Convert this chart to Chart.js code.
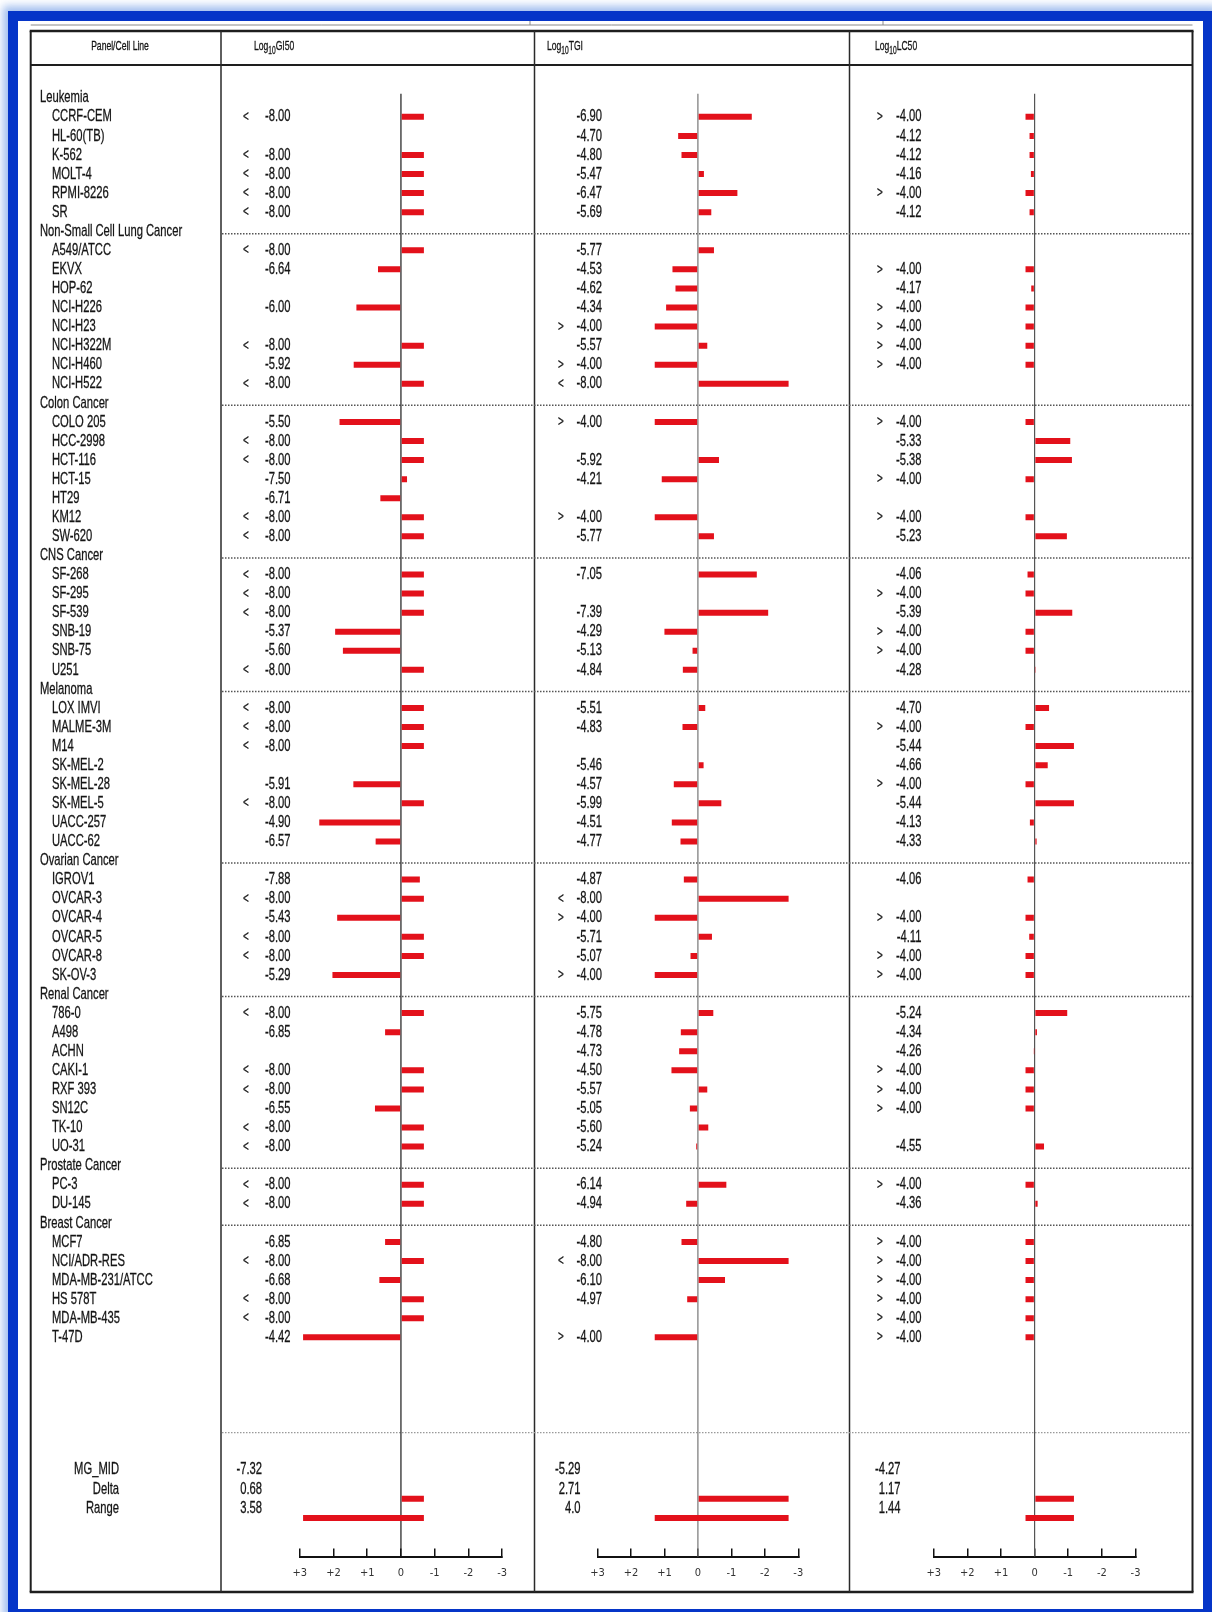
<!DOCTYPE html>
<html>
<head>
<meta charset="utf-8">
<script src="https://cdn.jsdelivr.net/npm/chart.js"></script>
<style>
html, body { margin: 0; padding: 0; background: #fff; }
#page { position: relative; width: 1212px; height: 1612px; overflow: hidden; background: #fff; }
#frame {
        position: absolute; left: 8px; top: 11px; width: 1205px; height: 1608px;
        box-sizing: border-box; border: 10px solid #0535c8;
        box-shadow: 0 0 8px 5px rgba(140, 175, 235, 0.8);
}
canvas { position: absolute; left: 0; top: 0; }
</style>
</head>
<body>
<div id="page">
        <div id="frame"></div>
        <canvas id="chart_gi50" width="1212" height="1612"></canvas>
        <canvas id="chart_tgi" width="1212" height="1612"></canvas>
        <canvas id="chart_lc50" width="1212" height="1612"></canvas>
</div>
<script>
const panel_names = ['Leukemia', 'Non-Small Cell Lung Cancer', 'Colon Cancer', 'CNS Cancer', 'Melanoma',
        'Ovarian Cancer', 'Renal Cancer', 'Prostate Cancer', 'Breast Cancer'];

const row_labels = [
        'Leukemia', 'CCRF-CEM', 'HL-60(TB)', 'K-562', 'MOLT-4', 'RPMI-8226', 'SR',
        'Non-Small Cell Lung Cancer', 'A549/ATCC', 'EKVX', 'HOP-62', 'NCI-H226', 'NCI-H23', 'NCI-H322M', 'NCI-H460', 'NCI-H522',
        'Colon Cancer', 'COLO 205', 'HCC-2998', 'HCT-116', 'HCT-15', 'HT29', 'KM12', 'SW-620',
        'CNS Cancer', 'SF-268', 'SF-295', 'SF-539', 'SNB-19', 'SNB-75', 'U251',
        'Melanoma', 'LOX IMVI', 'MALME-3M', 'M14', 'SK-MEL-2', 'SK-MEL-28', 'SK-MEL-5', 'UACC-257', 'UACC-62',
        'Ovarian Cancer', 'IGROV1', 'OVCAR-3', 'OVCAR-4', 'OVCAR-5', 'OVCAR-8', 'SK-OV-3',
        'Renal Cancer', '786-0', 'A498', 'ACHN', 'CAKI-1', 'RXF 393', 'SN12C', 'TK-10', 'UO-31',
        'Prostate Cancer', 'PC-3', 'DU-145',
        'Breast Cancer', 'MCF7', 'NCI/ADR-RES', 'MDA-MB-231/ATCC', 'HS 578T', 'MDA-MB-435', 'T-47D'
];

// log10 values, one per row (panel rows and missing values are null)
const gi50_values = [
        null, -8.00, null, -8.00, -8.00, -8.00, -8.00,
        null, -8.00, -6.64, null, -6.00, null, -8.00, -5.92, -8.00,
        null, -5.50, -8.00, -8.00, -7.50, -6.71, -8.00, -8.00,
        null, -8.00, -8.00, -8.00, -5.37, -5.60, -8.00,
        null, -8.00, -8.00, -8.00, null, -5.91, -8.00, -4.90, -6.57,
        null, -7.88, -8.00, -5.43, -8.00, -8.00, -5.29,
        null, -8.00, -6.85, null, -8.00, -8.00, -6.55, -8.00, -8.00,
        null, -8.00, -8.00,
        null, -6.85, -8.00, -6.68, -8.00, -8.00, -4.42
];
const gi50_signs = [
        '', '<', '', '<', '<', '<', '<',
        '', '<', '', '', '', '', '<', '', '<',
        '', '', '<', '<', '', '', '<', '<',
        '', '<', '<', '<', '', '', '<',
        '', '<', '<', '<', '', '', '<', '', '',
        '', '', '<', '', '<', '<', '',
        '', '<', '', '', '<', '<', '', '<', '<',
        '', '<', '<',
        '', '', '<', '', '<', '<', ''
];
const tgi_values = [
        null, -6.90, -4.70, -4.80, -5.47, -6.47, -5.69,
        null, -5.77, -4.53, -4.62, -4.34, -4.00, -5.57, -4.00, -8.00,
        null, -4.00, null, -5.92, -4.21, null, -4.00, -5.77,
        null, -7.05, null, -7.39, -4.29, -5.13, -4.84,
        null, -5.51, -4.83, null, -5.46, -4.57, -5.99, -4.51, -4.77,
        null, -4.87, -8.00, -4.00, -5.71, -5.07, -4.00,
        null, -5.75, -4.78, -4.73, -4.50, -5.57, -5.05, -5.60, -5.24,
        null, -6.14, -4.94,
        null, -4.80, -8.00, -6.10, -4.97, null, -4.00
];
const tgi_signs = [
        '', '', '', '', '', '', '',
        '', '', '', '', '', '>', '', '>', '<',
        '', '>', '', '', '', '', '>', '',
        '', '', '', '', '', '', '',
        '', '', '', '', '', '', '', '', '',
        '', '', '<', '>', '', '', '>',
        '', '', '', '', '', '', '', '', '',
        '', '', '',
        '', '', '<', '', '', '', '>'
];
const lc50_values = [
        null, -4.00, -4.12, -4.12, -4.16, -4.00, -4.12,
        null, null, -4.00, -4.17, -4.00, -4.00, -4.00, -4.00, null,
        null, -4.00, -5.33, -5.38, -4.00, null, -4.00, -5.23,
        null, -4.06, -4.00, -5.39, -4.00, -4.00, -4.28,
        null, -4.70, -4.00, -5.44, -4.66, -4.00, -5.44, -4.13, -4.33,
        null, -4.06, null, -4.00, -4.11, -4.00, -4.00,
        null, -5.24, -4.34, -4.26, -4.00, -4.00, -4.00, null, -4.55,
        null, -4.00, -4.36,
        null, -4.00, -4.00, -4.00, -4.00, -4.00, -4.00
];
const lc50_signs = [
        '', '>', '', '', '', '>', '',
        '', '', '>', '', '>', '>', '>', '>', '',
        '', '>', '', '', '>', '', '>', '',
        '', '', '>', '', '>', '>', '',
        '', '', '>', '', '', '>', '', '', '',
        '', '', '', '>', '', '>', '>',
        '', '', '', '', '>', '>', '>', '', '',
        '', '>', '',
        '', '>', '>', '>', '>', '>', '>'
];

const summary_labels = ['MG_MID', 'Delta', 'Range'];
const mg_mid = [-7.32, -5.29, -4.27];
const delta = [0.68, 2.71, 1.17];
const range = [3.58, 4.0, 1.44];
const range_text = ['3.58', '4.0', '1.44'];
const tick_values = [3, 2, 1, 0, -1, -2, -3];

// rows below the cell lines: blank gap, dotted separator, summary block, blank tail
const gap_rows = 6;
const separator_row = row_labels.length + 4;
const tail_rows = 2;

var all_labels = row_labels.slice();
for (let i = 0; i < gap_rows; i++) all_labels.push('');
summary_labels.forEach(s => all_labels.push(s));
for (let i = 0; i < tail_rows; i++) all_labels.push('');
const summary_start = row_labels.length + gap_rows;

const TEXT_FONT = '"Liberation Sans", Arial, sans-serif';
const SQUEEZE = 0.66;

function draw_text(ctx, text, x, y, align, size, color) {
        ctx.save();
        ctx.font = size + 'px ' + TEXT_FONT;
        ctx.fillStyle = color || '#141414';
        ctx.strokeStyle = color || '#141414';
        ctx.lineWidth = 0.3;
        ctx.textBaseline = 'middle';
        ctx.textAlign = align;
        ctx.translate(x, y);
        ctx.scale(SQUEEZE, 1);
        ctx.fillText(text, 0, 0);
        ctx.strokeText(text, 0, 0);
        ctx.restore();
}

function text_width(ctx, text, size) {
        ctx.save();
        ctx.font = size + 'px ' + TEXT_FONT;
        var w = ctx.measureText(text).width * SQUEEZE;
        ctx.restore();
        return w;
}

function line(ctx, x1, y1, x2, y2, width, color, dash) {
        ctx.save();
        ctx.strokeStyle = color;
        ctx.lineWidth = width;
        if (dash) ctx.setLineDash(dash);
        ctx.beginPath();
        ctx.moveTo(x1, y1);
        ctx.lineTo(x2, y2);
        ctx.stroke();
        ctx.restore();
}

function row_bars(values, col) {
        var data = values.map(v => v === null ? null : +(v - mg_mid[col]).toFixed(2));
        for (let i = row_labels.length; i < all_labels.length; i++) data.push(null);
        return data;
}

function summary_bars(col) {
        var data = all_labels.map(() => null);
        data[summary_start + 1] = [0, -delta[col]];                                          // Delta
        data[summary_start + 2] = [+(range[col] - delta[col]).toFixed(2), -delta[col]];      // Range
        return data;
}

const table = { left: 30.7, right: 1192.5, top: 31, head: 65, bottom: 1592, dividers: [221, 534.5, 849.5] };

// table frame, header, cell line names
const table_plugin = {
        id: 'table_plugin',
        beforeDraw(chart) {
                const ctx = chart.ctx;
                const y = chart.scales.y;
                line(ctx, table.left, 25, table.right, 25, 1, '#8a8a8a');
                line(ctx, 530, 21, 530, 25, 1, '#8a8a8a');
                line(ctx, 883, 21, 883, 25, 1, '#8a8a8a');
                line(ctx, table.left - 1, table.top, table.right + 1, table.top, 2.5, '#1e1e1e');
                line(ctx, table.left, table.head, table.right, table.head, 2, '#1e1e1e');
                line(ctx, table.left - 1, table.bottom, table.right + 1, table.bottom, 2.5, '#1e1e1e');
                line(ctx, table.left, table.top, table.left, table.bottom, 2, '#1e1e1e');
                line(ctx, table.right, table.top, table.right, table.bottom, 2, '#1e1e1e');
                table.dividers.forEach(x => line(ctx, x, table.top, x, table.bottom, 1.5, '#2a2a2a'));

                row_labels.forEach((name, i) => {
                        if (i > 0 && panel_names.includes(name)) {
                                var py = y.getPixelForValue(i) + 2.5;
                                line(ctx, table.dividers[0] + 1, py, table.right - 1, py, 1.5, '#555', [1.5, 1.5]);
                        }
                });
                var sy = y.getPixelForValue(separator_row);
                line(ctx, table.dividers[0] + 1, sy, table.right - 1, sy, 1.2, '#999', [1.5, 1.5]);

                draw_text(ctx, 'Panel/Cell Line', 120, 46, 'center', 13);
        },
        afterDraw(chart) {
                const ctx = chart.ctx;
                const y = chart.scales.y;
                row_labels.forEach((name, i) => {
                        var is_panel = panel_names.includes(name);
                        draw_text(ctx, name, is_panel ? 40 : 52, y.getPixelForValue(i), 'left', 17);
                });
                summary_labels.forEach((s, k) => {
                        draw_text(ctx, s, 119, y.getPixelForValue(summary_start + k) - 1, 'right', 17);
                });
        }
};

// zero line, values and summary numbers for one column
const column_plugin = {
        id: 'column_plugin',
        beforeDatasetsDraw(chart, args, opts) {
                const x0 = chart.scales.x.getPixelForValue(0);
                const top = chart.scales.y.getPixelForValue(0) - 4;
                line(chart.ctx, x0, top, x0, chart.chartArea.bottom, 1.2, opts.zero_color);
        },
        afterDraw(chart, args, opts) {
                const ctx = chart.ctx;
                const y = chart.scales.y;
                const col = opts.col;

                // header: Log10 <name>
                var hx = opts.header_x;
                draw_text(ctx, 'Log', hx, 46, 'left', 13);
                hx += text_width(ctx, 'Log', 13);
                draw_text(ctx, '10', hx, 51, 'left', 10);
                hx += text_width(ctx, '10', 10);
                draw_text(ctx, opts.title, hx, 46, 'left', 13);

                opts.values.forEach((v, i) => {
                        if (v === null) return;
                        var py = y.getPixelForValue(i);
                        draw_text(ctx, v.toFixed(2), opts.value_right, py, 'right', 17);
                        if (opts.signs[i]) draw_text(ctx, opts.signs[i], opts.sign_x, py, 'center', 15);
                });

                var summary_text = [mg_mid[col].toFixed(2), delta[col].toFixed(2), range_text[col]];
                summary_text.forEach((t, k) => {
                        draw_text(ctx, t, opts.summary_right, y.getPixelForValue(summary_start + k) - 1, 'right', 17);
                });
        }
};

function make_chart(name, col, values, signs, cfg) {
        var plugins = [column_plugin];
        if (col === 0) plugins.unshift(table_plugin);

        return new Chart(name, {
                type: 'bar',
                data: {
                        labels: all_labels,
                        datasets: [{
                                data: row_bars(values, col),
                                grouped: false,
                                backgroundColor: '#e3111b',
                                borderWidth: 0,
                                maxBarThickness: 6
                        }, {
                                // summary bars sit on an edge-aligned copy of the row axis
                                data: summary_bars(col),
                                yAxisID: 'y_summary',
                                grouped: false,
                                backgroundColor: '#e3111b',
                                borderWidth: 0,
                                maxBarThickness: 6
                        }]
                },
                options: {
                        indexAxis: 'y',
                        responsive: false,
                        animation: false,
                        events: [],
                        layout: {
                                padding: { left: cfg.left, right: 1212 - cfg.right, top: 88.2, bottom: 25.4 }
                        },
                        plugins: {
                                legend: { display: false },
                                tooltip: { enabled: false },
                                column_plugin: {
                                        col: col,
                                        values: values,
                                        signs: signs,
                                        title: cfg.title,
                                        header_x: cfg.header_x,
                                        value_right: cfg.value_right,
                                        sign_x: cfg.sign_x,
                                        summary_right: cfg.summary_right,
                                        zero_color: cfg.zero_color
                                }
                        },
                        scales: {
                                y: { type: 'category', display: false },
                                y_summary: { type: 'category', display: false, offset: false, labels: all_labels },
                                x: {
                                        type: 'linear',
                                        min: -3,
                                        max: 3,
                                        reverse: true,
                                        afterBuildTicks: s => { s.ticks = tick_values.map(v => ({ value: v })); },
                                        afterFit: s => { s.height = 30; },
                                        grid: { drawOnChartArea: false, drawTicks: true, tickLength: -8, color: '#111', lineWidth: 1.5 },
                                        border: { display: true, color: '#111', width: 2 },
                                        ticks: {
                                                padding: 18,
                                                color: '#333',
                                                font: { family: "'Liberation Sans Narrow', 'DejaVu Sans Condensed', 'Liberation Sans', sans-serif", size: 11 },
                                                callback: v => v > 0 ? '+' + v : String(v)
                                        }
                                }
                        }
                },
                plugins: plugins
        });
}

make_chart('chart_gi50', 0, gi50_values, gi50_signs,
        { title: 'GI50', left: 299.7, right: 502.2, header_x: 254, value_right: 290.5, sign_x: 246, summary_right: 262, zero_color: '#1a1a1a' });
make_chart('chart_tgi', 1, tgi_values, tgi_signs,
        { title: 'TGI', left: 597.5, right: 798.3, header_x: 547, value_right: 602, sign_x: 561, summary_right: 580.5, zero_color: '#777' });
make_chart('chart_lc50', 2, lc50_values, lc50_signs,
        { title: 'LC50', left: 933.7, right: 1135.5, header_x: 875, value_right: 921.5, sign_x: 880, summary_right: 900.5, zero_color: '#555' });
</script>
</body>
</html>
